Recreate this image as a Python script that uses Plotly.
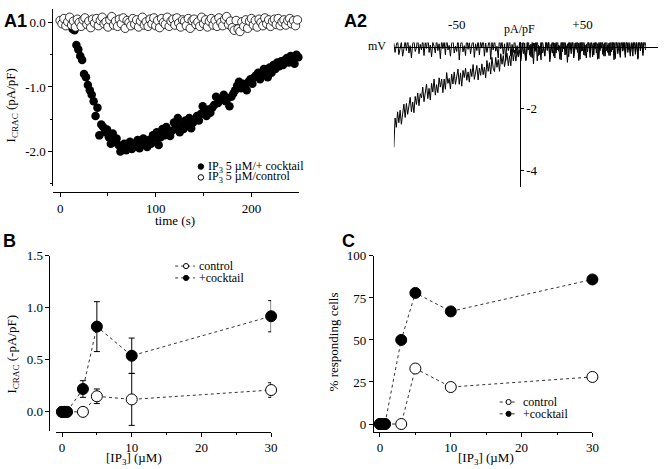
import plotly.graph_objects as go

# ---------------- data ----------------
# A1: time course (s, pA/pF)
t_cocktail = [13,15,17,19,21,23,25,27,29,31,
              33,35,37,39,41,43,45,47,49,51,
              53,55,57,59,61,63,65,67,69,71,
              73,75,77,79,81,83,85,87,89,91,
              93,95,97,99,101,103,105,107,109,111,
              113,115,117,119,121,123,125,127,129,131,
              133,135,137,139,141,143,145,147,149,151,
              153,155,157,159,161,163,165,167,169,171,
              173,175,177,179,181,183,185,187,189,191,
              193,195,197,199,201,203,205,207,209,211,
              213,215,217,219,221,223,225,227,229,231,
              233,235,237,239,241,243,245,247,249]
i_cocktail = [-0.10,-0.12,-0.35,-0.42,-0.52,-0.58,-0.80,-0.85,-0.97,-1.05,
              -1.12,-1.22,-1.45,-1.32,-1.75,-1.58,-1.62,-1.70,-1.66,-1.78,
              -1.88,-1.72,-1.85,-1.80,-1.90,-2.00,-1.95,-1.88,-1.98,-1.90,
              -1.85,-1.96,-1.88,-1.92,-1.82,-1.95,-1.86,-1.80,-1.90,-1.93,
              -1.82,-1.88,-1.75,-1.80,-1.70,-1.90,-1.78,-1.65,-1.75,-1.62,
              -1.72,-1.76,-1.68,-1.55,-1.62,-1.48,-1.70,-1.58,-1.65,-1.52,
              -1.60,-1.48,-1.64,-1.55,-1.50,-1.45,-1.52,-1.42,-1.30,-1.40,
              -1.45,-1.35,-1.40,-1.32,-1.28,-1.15,-1.25,-1.20,-1.18,-1.12,
              -1.22,-1.18,-1.30,-1.15,-1.10,-1.05,-0.98,-0.92,-1.02,-0.95,
              -1.00,-1.05,-0.92,-0.88,-0.95,-0.85,-0.82,-0.78,-0.88,-0.80,
              -0.72,-0.76,-0.85,-0.70,-0.78,-0.66,-0.72,-0.62,-0.68,-0.60,
              -0.66,-0.58,-0.55,-0.62,-0.52,-0.56,-0.64,-0.50,-0.54]
t_control = [0,2,4,6,8,10,12,14,16,18,
             20,22,24,26,28,30,32,34,36,38,
             40,42,44,46,48,50,52,54,56,58,
             60,62,64,66,68,70,72,74,76,78,
             80,82,84,86,88,90,92,94,96,98,
             100,102,104,106,108,110,112,114,116,118,
             120,122,124,126,128,130,132,134,136,138,
             140,142,144,146,148,150,152,154,156,158,
             160,162,164,166,168,170,172,174,176,178,
             180,182,184,186,188,190,192,194,196,198,
             200,202,204,206,208,210,212,214,216,218,
             220,222,224,226,228,230,232,234,236,238,
             240,242,244,246,248,250]
i_control = [0.03,-0.02,0.06,-0.05,0.01,0.08,-0.04,0.02,-0.07,0.05,
             0.00,-0.06,0.04,0.07,-0.03,0.02,-0.08,0.05,-0.01,0.06,
             -0.05,0.03,0.08,-0.02,0.01,-0.07,0.04,0.09,-0.04,0.02,
             -0.06,0.05,-0.02,0.07,-0.09,0.03,0.00,-0.05,0.06,-0.03,
             0.04,-0.07,0.02,0.08,-0.04,0.01,-0.06,0.05,-0.02,0.07,
             -0.05,0.03,-0.08,0.06,0.00,-0.03,0.08,-0.06,0.02,0.05,
             -0.04,0.07,-0.01,-0.07,0.04,0.02,-0.05,0.06,-0.09,0.03,
             0.05,-0.03,0.01,-0.06,0.08,-0.02,0.04,-0.07,0.02,0.06,
             -0.04,0.03,-0.06,0.07,0.00,-0.05,0.05,0.09,-0.03,0.02,
             -0.08,-0.12,0.03,-0.10,-0.14,0.01,-0.06,0.04,-0.09,0.02,
             0.06,-0.04,0.03,-0.07,0.05,0.00,-0.05,0.07,-0.02,0.04,
             -0.06,0.02,0.05,-0.03,0.06,-0.05,0.01,0.04,-0.04,0.03,
             0.06,-0.02,0.03,-0.05,0.04,0.02]

# A2: I-V ramp (mV, pA/pF)
mv = [-100,-99,-98,-97,-96,-95,-94,-93,-92,-91,
      -90,-89,-88,-87,-86,-85,-84,-83,-82,-81,
      -80,-79,-78,-77,-76,-75,-74,-73,-72,-71,
      -70,-69,-68,-67,-66,-65,-64,-63,-62,-61,
      -60,-59,-58,-57,-56,-55,-54,-53,-52,-51,
      -50,-49,-48,-47,-46,-45,-44,-43,-42,-41,
      -40,-39,-38,-37,-36,-35,-34,-33,-32,-31,
      -30,-29,-28,-27,-26,-25,-24,-23,-22,-21,
      -20,-19,-18,-17,-16,-15,-14,-13,-12,-11,
      -10,-9,-8,-7,-6,-5,-4,-3,-2,-1,
      0,1,2,3,4,5,6,7,8,9,
      10,11,12,13,14,15,16,17,18,19,
      20,21,22,23,24,25,26,27,28,29,
      30,31,32,33,34,35,36,37,38,39,
      40,41,42,43,44,45,46,47,48,49,
      50,51,52,53,54,55,56,57,58,59,
      60,61,62,63,64,65,66,67,68,69,
      70,71,72,73,74,75,76,77,78,79,
      80,81,82,83,84,85,86,87,88,89,
      90,91,92,93,94,95,96,97,98,99,
      100]
iv_baseline = [0.12,-0.18,0.05,0.22,-0.25,-0.08,0.15,-0.30,0.02,0.18,
               -0.12,0.28,-0.20,0.04,-0.35,0.10,0.20,-0.15,-0.02,0.32,
               -0.22,0.08,-0.10,0.25,-0.28,0.14,-0.05,0.40,-0.18,0.06,
               -0.32,0.16,0.02,-0.20,0.26,-0.12,0.10,-0.38,0.22,-0.06,
               0.18,-0.26,0.34,-0.10,0.05,-0.30,0.12,0.24,-0.20,0.02,
               -0.15,0.30,-0.42,0.08,0.20,-0.16,0.04,-0.28,0.36,-0.08,
               0.14,-0.22,0.06,0.28,-0.34,0.10,-0.12,0.22,-0.26,0.18,
               -0.04,0.32,-0.30,0.12,-0.18,0.06,0.26,-0.40,0.16,-0.10,
               0.24,-0.14,0.02,-0.36,0.30,-0.06,0.18,-0.24,0.10,-0.44,
               0.20,-0.12,0.28,-0.30,0.08,-0.18,0.34,-0.22,0.04,-0.28,
               0.16,-0.38,0.10,0.26,-0.20,-0.45,0.22,-0.10,0.05,-0.32,
               0.18,-0.55,0.12,-0.15,0.30,-0.28,0.02,-0.42,0.24,-0.08,
               -0.30,0.20,-0.12,0.35,-0.48,0.08,-0.20,0.15,-0.36,0.28,
               -0.10,0.06,-0.40,0.22,-0.16,0.32,-0.26,0.04,-0.50,0.18,
               0.10,-0.22,0.36,-0.30,0.12,-0.08,0.26,-0.44,0.20,-0.14,
               0.30,-0.26,0.06,-0.36,0.22,0.10,-0.20,0.38,-0.32,0.14,
               -0.06,0.28,-0.40,0.16,-0.12,0.34,-0.24,0.08,-0.30,0.42,
               -0.18,0.12,-0.28,0.36,-0.10,0.24,-0.38,0.20,-0.04,0.30,
               -0.26,0.44,-0.14,0.18,-0.34,0.28,-0.08,0.40,-0.22,0.10,
               -0.30,0.38,-0.16,0.26,-0.40,0.46,-0.12,0.20,-0.28,0.34,
               0.05]
iv_crac = [-3.25,-2.30,-2.60,-2.10,-2.45,-2.05,-2.50,-2.05,-1.85,-2.28,
           -1.83,-2.18,-1.90,-1.63,-2.10,-1.78,-2.13,-1.60,-1.86,-1.49,
           -1.90,-1.51,-1.65,-1.30,-1.77,-1.47,-1.20,-1.67,-1.34,-1.72,
           -1.18,-1.46,-1.04,-1.56,-1.22,-1.48,-1.00,-1.30,-1.04,-1.48,
           -1.04,-1.37,-0.83,-1.18,-1.02,-1.36,-0.88,-1.20,-0.81,-1.21,
           -0.96,-0.72,-1.21,-0.84,-1.27,-0.76,-0.99,-0.69,-1.08,-0.81,
           -1.14,-0.71,-0.96,-0.57,-1.05,-0.78,-0.60,-1.07,-0.68,-0.92,
           -0.55,-0.90,-0.65,-1.00,-0.44,-0.79,-0.51,-0.88,-0.34,-0.69,
           -0.80,-0.34,-0.66,-0.41,-0.79,-0.22,-0.56,-0.28,-0.64,-0.37,
           -0.21,-0.61,-0.29,-0.61,-0.07,-0.45,-0.10,-0.46,-0.13,-0.33,
           -0.10,-0.45,0.13,-0.22,0.12,-0.42,0.00,0.23,-0.27,0.09,
           -0.35,0.13,-0.13,0.27,-0.45,0.05,-0.25,0.21,-0.19,-0.01,
           -0.28,0.30,-0.10,0.16,-0.38,0.06,0.24,-0.30,0.12,-0.20,
           0.28,-0.14,0.04,-0.42,0.20,-0.06,0.34,-0.24,0.10,-0.32,
           0.16,-0.08,0.26,-0.36,0.02,0.30,-0.18,0.12,-0.40,0.22,
           -0.12,0.36,-0.28,0.08,-0.16,0.24,-0.34,0.14,0.02,-0.26,
           0.32,-0.20,0.10,-0.38,0.26,-0.04,0.18,-0.30,0.40,-0.12,
           0.06,-0.28,0.34,-0.16,0.22,-0.42,0.12,0.28,-0.22,0.04,
           -0.34,0.30,-0.10,0.20,-0.26,0.38,-0.18,0.08,-0.30,0.26,
           -0.08,0.42,-0.24,0.14,-0.36,0.32,-0.12,0.24,-0.20,0.36,
           -0.10]

# B and C: dose response
ip3_conc = [0, 0.3, 0.7, 3, 5, 10, 30]
b_control = [0, 0, 0, 0, 0.15, 0.12, 0.21]
b_control_err = [0, 0, 0, 0, 0.07, 0.25, 0.07]
b_cocktail = [0, 0, 0, 0.22, 0.82, 0.54, 0.92]
b_cocktail_err = [0, 0, 0, 0.08, 0.24, 0.17, 0.15]
c_control = [0, 0, 0, 0, 33, 22, 28]
c_cocktail = [0, 0, 0, 50, 78, 67, 86]

# ---------------- helpers ----------------
W, H = 667, 469
def px(x): return x / W
def py(y): return 1 - y / H

SERIF = "Liberation Serif, Times New Roman, Times, serif"
SANS = "Liberation Sans, Arial, Helvetica, sans-serif"
TF = dict(family=SERIF, size=13, color="black")

fig = go.Figure()

# A1
fig.add_trace(go.Scatter(x=t_cocktail, y=i_cocktail, mode="markers", xaxis="x", yaxis="y",
                         marker=dict(size=8.5, color="black", line=dict(width=0)), cliponaxis=False))
fig.add_trace(go.Scatter(x=t_control, y=i_control, mode="markers", xaxis="x", yaxis="y",
                         marker=dict(size=8.5, color="white", line=dict(width=0.8, color="black")), cliponaxis=False))
# A2
fig.add_trace(go.Scatter(x=mv, y=iv_baseline, mode="lines", xaxis="x2", yaxis="y2",
                         line=dict(color="black", width=1), cliponaxis=False))
fig.add_trace(go.Scatter(x=mv, y=iv_crac, mode="lines", xaxis="x2", yaxis="y2",
                         line=dict(color="black", width=1), cliponaxis=False))
# B
fig.add_trace(go.Scatter(x=ip3_conc, y=b_control, mode="lines+markers", xaxis="x3", yaxis="y3",
                         error_y=dict(type="data", array=b_control_err, color="black", thickness=1, width=3),
                         line=dict(color="#333", width=1, dash="dot"),
                         marker=dict(size=11, color="white", line=dict(width=1, color="black")), cliponaxis=False))
fig.add_trace(go.Scatter(x=ip3_conc, y=b_cocktail, mode="lines+markers", xaxis="x3", yaxis="y3",
                         error_y=dict(type="data", array=b_cocktail_err, color="black", thickness=1, width=3),
                         line=dict(color="#333", width=1, dash="dot"),
                         marker=dict(size=11, color="black", line=dict(width=1, color="black")), cliponaxis=False))
# C
fig.add_trace(go.Scatter(x=ip3_conc, y=c_control, mode="lines+markers", xaxis="x4", yaxis="y4",
                         line=dict(color="#333", width=1, dash="dot"),
                         marker=dict(size=11, color="white", line=dict(width=1, color="black")), cliponaxis=False))
fig.add_trace(go.Scatter(x=ip3_conc, y=c_cocktail, mode="lines+markers", xaxis="x4", yaxis="y4",
                         line=dict(color="#333", width=1, dash="dot"),
                         marker=dict(size=11, color="black", line=dict(width=1, color="black")), cliponaxis=False))

ax = dict(showline=True, linecolor="black", linewidth=1, ticks="outside", ticklen=4,
          tickcolor="black", tickwidth=1, showgrid=False, zeroline=False, tickfont=TF)
minor = lambda vals: dict(tickvals=vals, ticks="outside", ticklen=2.5, tickcolor="black", tickwidth=1)

fig.update_layout(
    width=W, height=H, margin=dict(l=0, r=0, t=0, b=0),
    paper_bgcolor="white", plot_bgcolor="rgba(0,0,0,0)", showlegend=False,
    font=dict(family=SERIF, color="black"),
    # A1
    xaxis=dict(**ax, domain=[px(54), px(302)], range=[-7, 249.5], anchor="free", position=py(188),
               tickvals=[0, 100, 200], ticktext=["0", "100", "200"], minor=minor([50, 150])),
    yaxis=dict(**ax, domain=[py(182), py(2)], range=[-2.539, 0.209], anchor="x",
               tickvals=[0, -1, -2], ticktext=["0.0", "-1.0", "-2.0"], minor=minor([-0.5, -1.5, -2.5])),
    # A2
    xaxis2=dict(showline=True, linecolor="black", linewidth=1, showgrid=False, zeroline=False,
                domain=[px(398), px(665)], range=[-100, 110], anchor="free", position=py(40.5),
                side="top", ticks="", tickvals=[-50, 50], ticktext=["-50", "+50"], tickfont=TF,
                ticklabelstandoff=13),
    yaxis2=dict(showline=True, linecolor="black", linewidth=1, showgrid=False, zeroline=False,
                domain=[py(183), py(36)], range=[-4.538, 0.143], anchor="free", position=px(525.1),
                side="right", ticks="outside", ticklen=3, tickcolor="black",
                tickvals=[-2, -4], ticktext=["-2", "-4"], tickfont=TF),
    # B
    xaxis3=dict(**ax, domain=[px(56.7), px(274)], range=[-0.85, 30], anchor="free", position=py(431),
                tickvals=[0, 10, 20, 30], minor=minor([5, 15, 25])),
    yaxis3=dict(**ax, domain=[py(430), py(252.7)], range=[-0.18, 1.5], anchor="free", position=px(50),
                tickvals=[0, 0.5, 1, 1.5], ticktext=["0.0", "0.5", "1.0", "1.5"]),
    # C
    xaxis4=dict(**ax, domain=[px(377.7), px(598.7)], range=[-0.88, 30], anchor="y4",
                tickvals=[0, 10, 20, 30], minor=minor([5, 15, 25])),
    yaxis4=dict(**ax, domain=[py(431), py(252.7)], range=[-4.5, 100], anchor="x4",
                tickvals=[0, 25, 50, 75, 100]),
)

ann = []
def text(x, y, s, size=13, family=SERIF, xanchor="center", angle=0):
    ann.append(dict(x=px(x), y=py(y), xref="paper", yref="paper", text=s, showarrow=False,
                    xanchor=xanchor, yanchor="middle", textangle=angle,
                    font=dict(family=family, size=size, color="black")))

# panel labels
text(2, 14, "<b>A1</b>", 18, SANS, "left")
text(346, 14, "<b>A2</b>", 18, SANS, "left")
text(1, 238, "<b>B</b>", 18, SANS, "left")
text(344, 238, "<b>C</b>", 18, SANS, "left")
# axis titles
text(12, 100, "I<sub>CRAC</sub> (pA/pF)", 13, angle=-90)
text(177, 217, "time (s)", 13)
text(381, 40, "mV", 12)
text(525, 22, "pA/pF", 12)
text(13, 352, "I<sub>CRAC</sub> (-pA/pF)", 13, angle=-90)
text(135, 458, "[IP<sub>3</sub>] (µM)", 13)
text(337, 340, "% responding cells", 13, angle=-90)
text(491, 458, "[IP<sub>3</sub>] (µM)", 13)
# legend texts
text(208, 162, "IP<sub>3</sub> 5 µM/+ cocktail", 12, xanchor="left")
text(208, 173, "IP<sub>3</sub> 5 µM/control", 12, xanchor="left")
text(199, 263, "control", 12, xanchor="left")
text(199, 275, "+cocktail", 12, xanchor="left")
text(527, 401, "control", 12, xanchor="left")
text(527, 413, "+cocktail", 12, xanchor="left")
fig.update_layout(annotations=ann)

shapes = []
def circ(cx, cy, r, filled):
    shapes.append(dict(type="circle", xref="paper", yref="paper",
                       x0=px(cx - r), x1=px(cx + r), y0=py(cy + r), y1=py(cy - r),
                       line=dict(color="black", width=1), fillcolor="black" if filled else "white",
                       layer="above"))
def dline(x0, x1, y):
    shapes.append(dict(type="line", xref="paper", yref="paper", x0=px(x0), x1=px(x1), y0=py(y), y1=py(y),
                       line=dict(color="#333", width=1, dash="dot"), layer="above"))

circ(203, 162, 2.8, True)
circ(203, 173, 2.8, False)
dline(177, 197, 263); circ(188, 263, 2.6, False)
dline(177, 197, 275); circ(188, 275, 2.6, True)
dline(505, 523, 401); circ(514, 401, 2.6, False)
dline(505, 523, 413); circ(514, 413, 2.6, True)
fig.update_layout(shapes=shapes)

fig.write_html("out.html", config={"displayModeBar": False},
               post_script="document.body.style.margin='0px';")
